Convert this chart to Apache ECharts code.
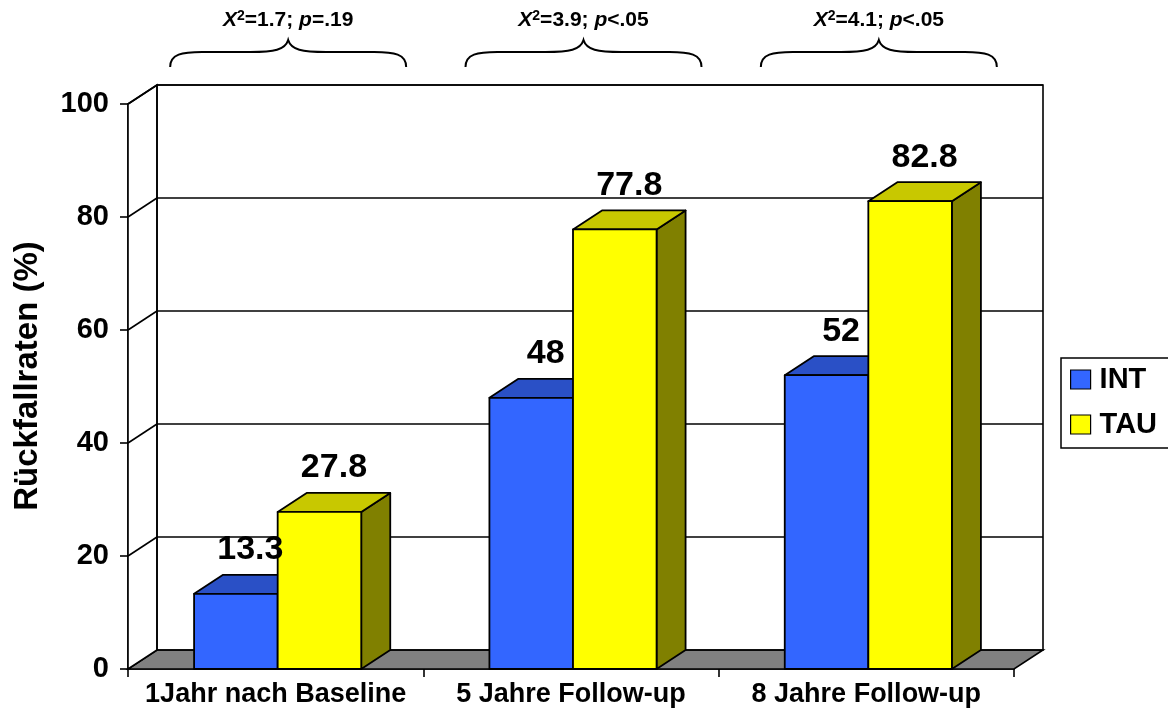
<!DOCTYPE html>
<html>
<head>
<meta charset="utf-8">
<script src="https://cdn.jsdelivr.net/npm/echarts@6/dist/echarts.min.js"></script>
<style>
  html, body { margin: 0; padding: 0; background: #fff; }
  #chart { width: 1168px; height: 715px; }
</style>
</head>
<body>
<div id="chart"></div>
<script>
// Relapse rates per follow-up point, two treatment groups
const categories = ['1Jahr nach Baseline', '5 Jahre Follow-up', '8 Jahre Follow-up'];
const intValues = [13.3, 48, 52];
const tauValues = [27.8, 77.8, 82.8];
const chiSquare = ['1.7', '3.9', '4.1'];
const pValues = ['=.19', '<.05', '<.05'];
const yTicks = [0, 20, 40, 60, 80, 100];

// Pseudo-3D geometry (pixels)
const DEPTH_X = 29;
const DEPTH_Y = -19;
const BAR_FRACTION = 0.283;
const FONT = '"Liberation Sans", Arial, sans-serif';

const COLORS = {
  INT: { front: '#3366FF', top: '#2A50C6', side: '#1F3C99' },
  TAU: { front: '#FFFF00', top: '#C8C800', side: '#808000' }
};

const chart = echarts.init(document.getElementById('chart'), null, { renderer: 'canvas' });

// Floor, side wall, back wall and its gridlines
function renderFrame(params, api) {
  const cs = params.coordSys;
  const x0 = cs.x, x1 = cs.x + cs.width;
  const yTop = cs.y, yBot = cs.y + cs.height;
  const dx = DEPTH_X, dy = DEPTH_Y;
  const stroke = { stroke: '#000', lineWidth: 1.6 };
  const children = [
    { type: 'polygon', shape: { points: [[x0, yBot], [x1, yBot], [x1 + dx, yBot + dy], [x0 + dx, yBot + dy]] },
      style: Object.assign({ fill: '#808080' }, stroke) },
    { type: 'polygon', shape: { points: [[x0, yTop], [x0 + dx, yTop + dy], [x0 + dx, yBot + dy], [x0, yBot]] },
      style: Object.assign({ fill: '#fff' }, stroke) },
    { type: 'rect', shape: { x: x0 + dx, y: yTop + dy, width: cs.width, height: cs.height },
      style: Object.assign({ fill: 'none' }, stroke) }
  ];
  yTicks.forEach(function (v) {
    if (v === 0) return;
    const y = api.coord([0, v])[1];
    children.push({ type: 'line', shape: { x1: x0, y1: y, x2: x0 + dx, y2: y + dy }, style: stroke });
    children.push({ type: 'line', shape: { x1: x0 + dx, y1: y + dy, x2: x1 + dx, y2: y + dy }, style: stroke });
  });
  return { type: 'group', children: children };
}

// One 3D box per data item: side face, top face, front face, value label
function makeBarRenderer(slot, palette) {
  return function (params, api) {
    const idx = api.value(0);
    const val = api.value(1);
    const base = api.coord([idx, 0]);
    const top = api.coord([idx, val]);
    const band = api.size([1, 0])[0];
    const w = band * BAR_FRACTION;
    const left = base[0] - w + slot * w + 2;
    const right = left + w;
    const ty = top[1], by = base[1];
    const dx = DEPTH_X, dy = DEPTH_Y;
    const edge = { stroke: '#000', lineWidth: 1.8, lineJoin: 'round' };
    return {
      type: 'group',
      children: [
        { type: 'polygon', z2: slot, shape: { points: [[right, ty], [right + dx, ty + dy], [right + dx, by + dy], [right, by]] },
          style: Object.assign({ fill: palette.side }, edge) },
        { type: 'polygon', z2: slot, shape: { points: [[left, ty], [right, ty], [right + dx, ty + dy], [left + dx, ty + dy]] },
          style: Object.assign({ fill: palette.top }, edge) },
        { type: 'rect', z2: slot, shape: { x: left, y: ty, width: w, height: by - ty },
          style: Object.assign({ fill: palette.front }, edge) },
        { type: 'text', z2: 10,
          style: { text: String(val), x: left + w / 2 + dx / 2, y: ty + dy - 25,
                   align: 'center', verticalAlign: 'middle',
                   fontFamily: FONT, fontSize: 34, fontWeight: 'bold', fill: '#000' } }
      ]
    };
  };
}

// Chi-square annotation with a curly brace over each group
function renderAnnotation(params, api) {
  const idx = api.value(0);
  const cx = api.coord([idx, 0])[0] + DEPTH_X / 2 - 2;
  const h = 118;
  const yEnd = 67, yMid = 52, yTip = 40;
  const d = [
    'M', cx - h, yEnd,
    'C', cx - h, yMid + 2, cx - h + 12, yMid, cx - h + 32, yMid,
    'L', cx - 38, yMid,
    'C', cx - 14, yMid, cx - 3, yMid - 2, cx, yTip,
    'C', cx + 3, yMid - 2, cx + 14, yMid, cx + 38, yMid,
    'L', cx + h - 32, yMid,
    'C', cx + h - 12, yMid, cx + h, yMid + 2, cx + h, yEnd
  ].join(' ');
  return {
    type: 'group',
    children: [
      { type: 'path', shape: { pathData: d },
        style: { fill: 'none', stroke: '#000', lineWidth: 2 } },
      { type: 'text',
        style: {
          text: '{i|X}{s|2}{n|=' + chiSquare[idx] + '; }{i|p}{n|' + pValues[idx] + '}',
          x: cx, y: 20, align: 'center', verticalAlign: 'middle',
          rich: {
            i: { fontFamily: FONT, fontSize: 21, fontWeight: 'bold', fontStyle: 'italic', fill: '#000' },
            s: { fontFamily: FONT, fontSize: 14, fontWeight: 'bold', fill: '#000', verticalAlign: 'top' },
            n: { fontFamily: FONT, fontSize: 21, fontWeight: 'bold', fill: '#000' }
          }
        } }
    ]
  };
}

const option = {
  animation: false,
  backgroundColor: '#fff',
  grid: { left: 128, right: 154, top: 104, bottom: 46, containLabel: false, outerBoundsMode: 'none' },
  xAxis: {
    type: 'category',
    data: categories,
    boundaryGap: true,
    axisLine: { lineStyle: { color: '#000', width: 1.6 } },
    axisTick: { show: true, interval: 0, length: 8, lineStyle: { color: '#000', width: 1.6 } },
    axisLabel: { interval: 0, hideOverlap: false, color: '#000', fontFamily: FONT, fontSize: 27, fontWeight: 'bold', margin: 12 },
    splitLine: { show: false }
  },
  yAxis: {
    type: 'value',
    min: yTicks[0],
    max: yTicks[yTicks.length - 1],
    interval: yTicks[1] - yTicks[0],
    axisLine: { show: true, lineStyle: { color: '#000', width: 1.6 } },
    axisTick: { show: true, length: 8, lineStyle: { color: '#000', width: 1.6 } },
    axisLabel: { color: '#000', fontFamily: FONT, fontSize: 29, fontWeight: 'bold', margin: 19 },
    splitLine: { show: false }
  },
  legend: {
    orient: 'vertical',
    left: 1061,
    top: 358,
    selectedMode: false,
    icon: 'rect',
    itemWidth: 20,
    itemHeight: 19,
    itemGap: 16,
    padding: [7, 16, 9, 9],
    borderColor: '#000',
    borderWidth: 1.5,
    textStyle: { color: '#000', fontFamily: FONT, fontSize: 29, fontWeight: 'bold', padding: [0, 0, 0, 4] },
    data: [
      { name: 'INT', itemStyle: { color: COLORS.INT.front, borderColor: '#000', borderWidth: 1.2 } },
      { name: 'TAU', itemStyle: { color: COLORS.TAU.front, borderColor: '#000', borderWidth: 1.2 } }
    ]
  },
  graphic: [
    { type: 'text', x: 28, y: 376, rotation: Math.PI / 2,
      style: { text: 'Rückfallraten (%)', align: 'center', verticalAlign: 'middle',
               fontFamily: FONT, fontSize: 33, fontWeight: 'bold', fill: '#000' } }
  ],
  series: [
    { type: 'custom', z: 1, clip: false, silent: true, renderItem: renderFrame, data: [[0, 0]] },
    { type: 'custom', name: 'INT', z: 3, clip: false, itemStyle: { color: COLORS.INT.front },
      renderItem: makeBarRenderer(0, COLORS.INT),
      data: intValues.map(function (v, i) { return [i, v]; }) },
    { type: 'custom', name: 'TAU', z: 3, clip: false, itemStyle: { color: COLORS.TAU.front },
      renderItem: makeBarRenderer(1, COLORS.TAU),
      data: tauValues.map(function (v, i) { return [i, v]; }) },
    { type: 'custom', z: 5, clip: false, silent: true, renderItem: renderAnnotation,
      data: categories.map(function (c, i) { return [i, 100]; }) }
  ]
};

chart.setOption(option);
</script>
</body>
</html>
